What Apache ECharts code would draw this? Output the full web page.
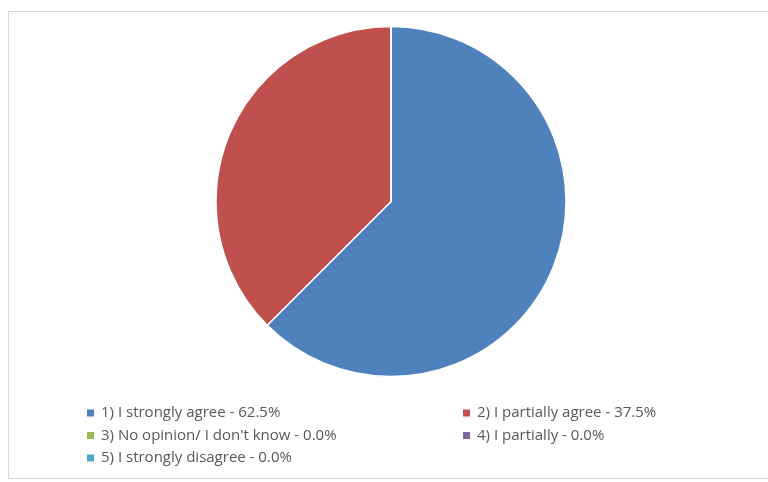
<!DOCTYPE html>
<html>
<head>
<meta charset="utf-8">
<script src="https://cdn.jsdelivr.net/npm/echarts@6/dist/echarts.min.js"></script>
<style>
html,body{margin:0;padding:0;background:#fff;}
#frame{position:absolute;left:8px;top:11px;width:800px;height:468px;border:1px solid #d9d9d9;box-sizing:border-box;}
#chart{position:absolute;left:0;top:0;width:768px;height:482px;}
</style>
</head>
<body>
<div id="frame"></div>
<div id="chart"></div>
<script>
var categories = ["1) I strongly agree", "2) I partially agree", "3) No opinion/ I don't know", "4) I partially", "5) I strongly disagree"];
var values = [62.5, 37.5, 0.0, 0.0, 0.0];
var colors = ["#4F81BD", "#C0504D", "#9BBB59", "#8064A2", "#4BACC6"];

var chart = echarts.init(document.getElementById('chart'), null, {renderer: 'canvas'});
var data = categories.map(function (c, i) { return {name: c, value: values[i]}; });
var valueByName = {};
categories.forEach(function (c, i) { valueByName[c] = values[i]; });
function fmt(name) { return name + ' - ' + valueByName[name].toFixed(1) + '%'; }
var legendText = {color: '#595959', fontSize: 15, lineHeight: 15, fontFamily: 'Open Sans', padding: [0, 0, 0, 2]};
var legendIcon = {borderWidth: 0, borderColor: 'transparent'};
option = {
  animation: false,
  color: colors,
  legend: [
    {
      orient: 'vertical', left: 87, top: 405.5, itemWidth: 7, itemHeight: 7, itemGap: 7.5,
      icon: 'rect', data: [categories[0], categories[2], categories[4]],
      formatter: fmt, textStyle: legendText, itemStyle: legendIcon, padding: 0
    },
    {
      orient: 'vertical', left: 463, top: 405.5, itemWidth: 7, itemHeight: 7, itemGap: 7.5,
      icon: 'rect', data: [categories[1], categories[3]],
      formatter: fmt, textStyle: legendText, itemStyle: legendIcon, padding: 0
    }
  ],
  series: [{
    type: 'pie',
    center: [391, 201.5],
    radius: 175,
    startAngle: 90,
    clockwise: true,
    label: {show: false},
    labelLine: {show: false},
    emphasis: {disabled: true},
    itemStyle: {borderColor: '#ffffff', borderWidth: 1.5},
    data: data
  }]
};
chart.setOption(option);
</script>
</body>
</html>
